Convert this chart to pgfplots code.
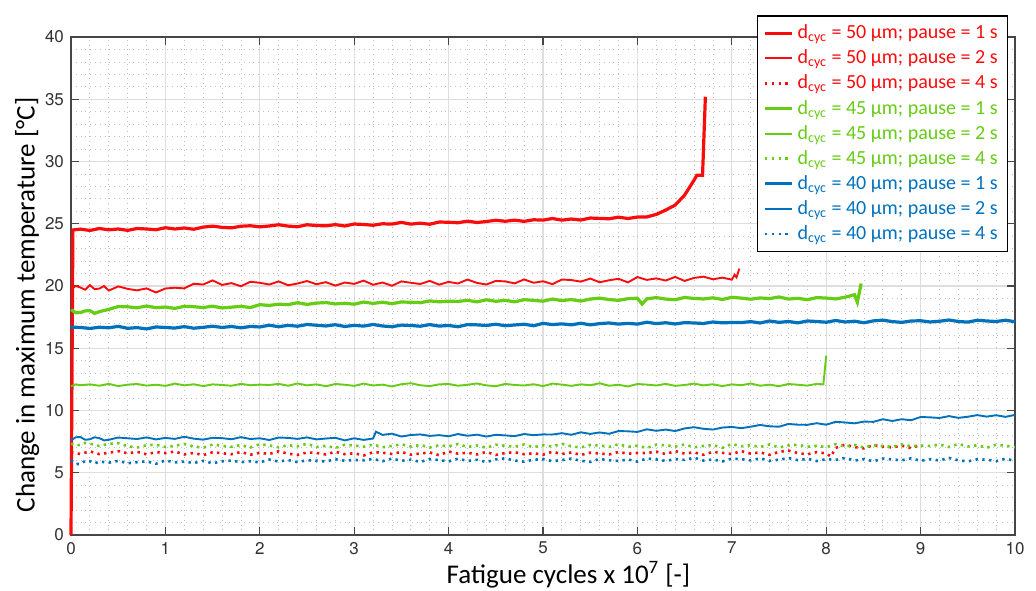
\documentclass[border=0pt]{standalone}
\usepackage{fontspec}
\setmainfont{Carlito}
\newfontfamily\helv{TeX Gyre Heros}
\usepackage{pgfplots}
\pgfplotsset{compat=1.18}
\definecolor{cred}{RGB}{250,12,12}
\definecolor{cgreen}{RGB}{102,204,20}
\definecolor{cblue}{RGB}{0,114,189}
\definecolor{axgray}{RGB}{70,70,70}
\tikzset{
  p1/.style={line width=1.6pt},
  p2/.style={line width=0.95pt},
  p4/.style={line width=1.3pt, dash pattern=on 1.2pt off 2.2pt},
}
\newcommand{\dc}{d\textsubscript{cyc}}
\begin{document}
\begin{tikzpicture}
\begin{axis}[
  scale only axis, width=472pt, height=249pt,
  xmin=0, xmax=10, ymin=0, ymax=40,
  xtick={0,1,...,10}, ytick={0,5,...,40},
  minor x tick num=4, minor y tick num=4,
  grid=both,
  major grid style={draw=black!13, line width=0.6pt},
  minor grid style={draw=black!25, line width=0.4pt, dotted},
  axis line style={draw=axgray, line width=0.6pt},
  major tick length=4pt, minor tick length=0pt,
  every tick/.style={draw=axgray, line width=0.6pt},
  /pgf/number format/assume math mode=true,
  ticklabel style={font=\helv\fontsize{8.5}{10}\selectfont, text=black!80},
  xlabel={Fatigue cycles x 10\textsuperscript{7} [-]},
  ylabel={Change in maximum temperature [°C]},
  label style={font=\fontsize{13.5}{16}\selectfont},
  xlabel style={at={(ticklabel cs:0.527)}, yshift=3.5pt},
  ylabel style={at={(ticklabel cs:0.462)}, yshift=-4pt},
  clip=false,
  legend style={at={(0.993,1.044)}, anchor=north east, draw=black, line width=0.8pt,
    fill=white, font=\fontsize{10}{12}\selectfont, inner xsep=3pt, inner ysep=2.5pt,
    row sep=0.1pt},
  legend cell align=left,
  legend image code/.code={\draw[#1] (0pt,0pt) -- (13.5pt,0pt);},
]
% d = 50 um, pause = 1 s
\addplot[color=cred, draw=cred, p1] coordinates {
(0,0) (0.02,24.5) (0.1,24.57) (0.2,24.46) (0.3,24.62) (0.4,24.51) (0.5,24.58) (0.6,24.47) (0.7,24.62) (0.8,24.58) (0.9,24.52)
(1.0,24.68) (1.1,24.58) (1.2,24.66) (1.3,24.56) (1.4,24.73) (1.5,24.81) (1.6,24.71) (1.7,24.67) (1.8,24.80) (1.9,24.84)
(2.0,24.75) (2.1,24.82) (2.2,24.92) (2.3,24.81) (2.4,24.76) (2.5,24.92) (2.6,24.86) (2.7,24.83) (2.8,24.93) (2.9,24.82)
(3.0,24.98) (3.1,24.94) (3.2,24.88) (3.3,25.00) (3.4,24.97) (3.5,25.11) (3.6,24.97) (3.7,25.05) (3.8,24.96) (3.9,25.14)
(4.0,25.12) (4.1,25.08) (4.2,25.21) (4.3,25.10) (4.4,25.18) (4.5,25.28) (4.6,25.20) (4.7,25.29) (4.8,25.19) (4.9,25.32)
(5.0,25.29) (5.1,25.42) (5.2,25.29) (5.3,25.38) (5.4,25.30) (5.5,25.46) (5.6,25.43) (5.7,25.40) (5.8,25.53) (5.9,25.42)
(6.0,25.54) (6.1,25.55) (6.2,25.75) (6.3,26.1) (6.4,26.5) (6.45,26.9) (6.5,27.3) (6.55,27.9) (6.6,28.5) (6.63,28.9)
(6.69,28.9) (6.72,35.2)
};
\addlegendentry{\textcolor{cred}{\dc{} = 50 µm; pause = 1 s}}
% d = 50 um, pause = 2 s
\addplot[color=cred, draw=cred, p2] coordinates {
(0.0,19.74) (0.05,20.0) (0.1,19.88) (0.15,19.7) (0.2,20.07) (0.25,19.75) (0.3,19.79) (0.35,20.0) (0.4,19.63) (0.5,19.97)
(0.6,19.77) (0.7,19.65) (0.8,19.81) (0.9,19.48) (1.0,19.80) (1.1,19.86) (1.2,19.81) (1.3,20.18) (1.4,20.12) (1.5,20.45)
(1.6,20.09) (1.7,20.23) (1.8,19.98) (1.9,20.34) (2.0,20.26) (2.1,20.12) (2.2,20.37) (2.3,20.06) (2.4,20.20) (2.5,20.40)
(2.6,20.14) (2.7,20.31) (2.8,20.03) (2.9,20.28) (3.0,20.17) (3.1,20.43) (3.2,20.10) (3.3,20.28) (3.4,20.02) (3.5,20.37)
(3.6,20.26) (3.7,20.16) (3.8,20.41) (3.9,20.11) (4.0,20.33) (4.1,20.20) (4.2,20.52) (4.3,20.25) (4.4,20.12) (4.5,20.41)
(4.6,20.37) (4.7,20.21) (4.8,20.53) (4.9,20.26) (5.0,20.38) (5.1,20.15) (5.2,20.52) (5.3,20.48) (5.4,20.35) (5.5,20.60)
(5.6,20.30) (5.7,20.46) (5.8,20.58) (5.9,20.29) (6.0,20.72) (6.1,20.49) (6.2,20.61) (6.3,20.44) (6.4,20.73) (6.5,20.41)
(6.6,20.65) (6.7,20.75) (6.8,20.54) (6.9,20.67) (7.0,20.51) (7.03,20.9) (7.05,20.7) (7.08,21.4)
};
\addlegendentry{\textcolor{cred}{\dc{} = 50 µm; pause = 2 s}}
% d = 50 um, pause = 4 s
\addplot[color=cred, draw=cred, p4] coordinates {
(0.0,6.64) (0.1,6.51) (0.2,6.72) (0.3,6.50) (0.4,6.60) (0.5,6.74) (0.6,6.56) (0.7,6.68) (0.8,6.48) (0.9,6.66)
(1.0,6.58) (1.1,6.71) (1.2,6.47) (1.3,6.59) (1.4,6.41) (1.5,6.65) (1.6,6.57) (1.7,6.49) (1.8,6.67) (1.9,6.45)
(2.0,6.61) (2.1,6.51) (2.2,6.73) (2.3,6.53) (2.4,6.43) (2.5,6.63) (2.6,6.59) (2.7,6.47) (2.8,6.69) (2.9,6.49)
(3.0,6.57) (3.1,6.39) (3.2,6.65) (3.3,6.61) (3.4,6.51) (3.5,6.67) (3.6,6.45) (3.7,6.55) (3.8,6.63) (3.9,6.41)
(4.0,6.71) (4.1,6.53) (4.2,6.61) (4.3,6.47) (4.4,6.67) (4.5,6.43) (4.6,6.59) (4.7,6.65) (4.8,6.49) (4.9,6.57)
(5.0,6.45) (5.1,6.69) (5.2,6.51) (5.3,6.63) (5.4,6.43) (5.5,6.61) (5.6,6.55) (5.7,6.47) (5.8,6.67) (5.9,6.53)
(6.0,6.59) (6.1,6.58) (6.2,6.70) (6.3,6.50) (6.4,6.74) (6.5,6.54) (6.6,6.64) (6.7,6.44) (6.8,6.68) (6.9,6.60)
(7.0,6.50) (7.1,6.74) (7.2,6.54) (7.3,6.64) (7.4,6.44) (7.5,6.68) (7.6,6.78) (7.7,6.58) (7.8,6.48) (7.9,6.66)
(8.0,6.55) (8.05,6.3) (8.1,7.0) (8.2,7.26) (8.3,7.06) (8.4,6.96) (8.5,7.22) (8.6,7.10) (8.7,7.04) (8.8,7.18)
(8.9,6.98) (9.0,7.24)
};
\addlegendentry{\textcolor{cred}{\dc{} = 50 µm; pause = 4 s}}
% d = 45 um, pause = 1 s
\addplot[color=cgreen, draw=cgreen, p1] coordinates {
(0.0,18.1) (0.05,17.85) (0.1,17.87) (0.15,18.0) (0.2,18.02) (0.25,17.8) (0.3,17.94) (0.4,18.12) (0.5,18.35) (0.6,18.33)
(0.7,18.25) (0.8,18.39) (0.9,18.26) (1.0,18.31) (1.1,18.20) (1.2,18.37) (1.3,18.34) (1.4,18.27) (1.5,18.38) (1.6,18.24)
(1.7,18.30) (1.8,18.37) (1.9,18.27) (2.0,18.50) (2.1,18.44) (2.2,18.54) (2.3,18.50) (2.4,18.66) (2.5,18.52) (2.6,18.63)
(2.7,18.67) (2.8,18.56) (2.9,18.61) (3.0,18.54) (3.1,18.71) (3.2,18.60) (3.3,18.70) (3.4,18.58) (3.5,18.72) (3.6,18.69)
(3.7,18.66) (3.8,18.80) (3.9,18.73) (4.0,18.78) (4.1,18.76) (4.2,18.85) (4.3,18.73) (4.4,18.89) (4.5,18.77) (4.6,18.85)
(4.7,18.73) (4.8,18.90) (4.9,18.85) (5.0,18.78) (5.1,18.95) (5.2,18.83) (5.3,18.91) (5.4,18.79) (5.5,18.95) (5.6,19.03)
(5.7,18.91) (5.8,18.85) (5.9,18.98) (6.0,19.02) (6.05,18.55) (6.1,18.97) (6.2,19.07) (6.3,18.95) (6.4,18.90) (6.5,19.08)
(6.6,19.00) (6.7,18.96) (6.8,19.05) (6.9,18.92) (7.0,19.09) (7.1,19.03) (7.2,18.94) (7.3,19.04) (7.4,18.99) (7.5,19.12)
(7.6,18.95) (7.7,19.01) (7.8,18.90) (7.9,19.07) (8.0,19.03) (8.1,18.96) (8.2,19.1) (8.25,19.2) (8.3,19.3) (8.33,18.7)
(8.37,20.2)
};
\addlegendentry{\textcolor{cgreen}{\dc{} = 45 µm; pause = 1 s}}
% d = 45 um, pause = 2 s
\addplot[color=cgreen, draw=cgreen, p2] coordinates {
(0.0,11.95) (0.05,12.1) (0.1,12.03) (0.2,12.10) (0.3,11.99) (0.4,12.14) (0.5,11.96) (0.6,12.08) (0.7,12.13) (0.8,12.00)
(0.9,12.07) (1.0,11.98) (1.1,12.16) (1.2,12.02) (1.3,12.11) (1.4,11.96) (1.5,12.10) (1.6,12.05) (1.7,11.99) (1.8,12.14)
(1.9,12.03) (2.0,12.08) (2.1,12.05) (2.2,12.14) (2.3,11.99) (2.4,12.17) (2.5,12.02) (2.6,12.10) (2.7,11.95) (2.8,12.13)
(2.9,12.07) (3.0,11.98) (3.1,12.16) (3.2,12.01) (3.3,12.08) (3.4,11.93) (3.5,12.11) (3.6,12.19) (3.7,12.03) (3.8,11.96)
(3.9,12.10) (4.0,12.13) (4.1,11.99) (4.2,12.07) (4.3,12.17) (4.4,12.02) (4.5,11.95) (4.6,12.14) (4.7,12.05) (4.8,12.01)
(4.9,12.11) (5.0,11.96) (5.1,12.16) (5.2,12.08) (5.3,11.98) (5.4,12.10) (5.5,12.03) (5.6,12.19) (5.7,11.99) (5.8,12.07)
(5.9,11.93) (6.0,12.13) (6.1,12.08) (6.2,12.01) (6.3,12.14) (6.4,11.98) (6.5,12.05) (6.6,12.16) (6.7,12.02) (6.8,12.11)
(6.9,11.96) (7.0,12.10) (7.1,12.03) (7.2,12.17) (7.3,11.99) (7.4,12.08) (7.5,11.95) (7.6,12.13) (7.7,12.07) (7.8,12.00)
(7.9,12.14) (7.97,12.1) (8.0,14.4)
};
\addlegendentry{\textcolor{cgreen}{\dc{} = 45 µm; pause = 2 s}}
% d = 45 um, pause = 4 s
\addplot[color=cgreen, draw=cgreen, p4] coordinates {
(0.0,7.35) (0.05,7.2) (0.1,7.24) (0.15,7.4) (0.2,7.34) (0.3,7.14) (0.4,7.33) (0.5,7.38) (0.6,7.13) (0.7,7.03)
(0.8,7.21) (0.9,7.25) (1.0,7.07) (1.1,7.17) (1.2,7.31) (1.3,7.11) (1.4,7.01) (1.5,7.27) (1.6,7.15) (1.7,7.09)
(1.8,7.23) (1.9,7.03) (2.0,7.29) (2.1,7.19) (2.2,7.05) (2.3,7.21) (2.4,7.13) (2.5,7.33) (2.6,7.07) (2.7,7.17)
(2.8,6.99) (2.9,7.25) (3.0,7.19) (3.1,7.09) (3.2,7.27) (3.3,7.05) (3.4,7.15) (3.5,7.29) (3.6,7.11) (3.7,7.23)
(3.8,7.03) (3.9,7.21) (4.0,7.13) (4.1,7.31) (4.2,7.07) (4.3,7.19) (4.4,7.01) (4.5,7.25) (4.6,7.17) (4.7,7.09)
(4.8,7.27) (4.9,7.05) (5.0,7.21) (5.1,7.11) (5.2,7.33) (5.3,7.13) (5.4,7.03) (5.5,7.23) (5.6,7.19) (5.7,7.07)
(5.8,7.29) (5.9,7.09) (6.0,7.17) (6.1,6.99) (6.2,7.25) (6.3,7.21) (6.4,7.11) (6.5,7.27) (6.6,7.05) (6.7,7.15)
(6.8,7.23) (6.9,7.01) (7.0,7.31) (7.1,7.13) (7.2,7.21) (7.3,7.07) (7.4,7.27) (7.5,7.03) (7.6,7.19) (7.7,7.25)
(7.8,7.09) (7.9,7.17) (8.0,7.05) (8.1,7.29) (8.2,7.11) (8.3,7.23) (8.4,7.03) (8.5,7.21) (8.6,7.15) (8.7,7.07)
(8.8,7.27) (8.9,7.13) (9.0,7.19) (9.1,7.15) (9.2,7.27) (9.3,7.07) (9.4,7.31) (9.5,7.11) (9.6,7.21) (9.7,7.01)
(9.8,7.25) (9.9,7.17) (10.0,7.05)
};
\addlegendentry{\textcolor{cgreen}{\dc{} = 45 µm; pause = 4 s}}
% d = 40 um, pause = 1 s
\addplot[color=cblue, draw=cblue, p1] coordinates {
(0.0,16.7) (0.1,16.67) (0.2,16.59) (0.3,16.69) (0.4,16.64) (0.5,16.76) (0.6,16.60) (0.7,16.66) (0.8,16.55) (0.9,16.71)
(1.0,16.67) (1.1,16.62) (1.2,16.74) (1.3,16.61) (1.4,16.68) (1.5,16.77) (1.6,16.67) (1.7,16.75) (1.8,16.64) (1.9,16.75)
(2.0,16.71) (2.1,16.85) (2.2,16.73) (2.3,16.84) (2.4,16.77) (2.5,16.91) (2.6,16.85) (2.7,16.79) (2.8,16.89) (2.9,16.75)
(3.0,16.84) (3.1,16.78) (3.2,16.91) (3.3,16.79) (3.4,16.73) (3.5,16.86) (3.6,16.83) (3.7,16.77) (3.8,16.90) (3.9,16.78)
(4.0,16.83) (4.1,16.73) (4.2,16.90) (4.3,16.88) (4.4,16.83) (4.5,16.93) (4.6,16.81) (4.7,16.87) (4.8,16.93) (4.9,16.81)
(5.0,17.00) (5.1,16.90) (5.2,16.96) (5.3,16.88) (5.4,17.01) (5.5,16.88) (5.6,16.98) (5.7,17.03) (5.8,16.94) (5.9,17.00)
(6.0,16.94) (6.1,17.09) (6.2,16.98) (6.3,17.05) (6.4,16.95) (6.5,17.06) (6.6,17.03) (6.7,16.99) (6.8,17.11) (6.9,17.04)
(7.0,17.07) (7.1,17.06) (7.2,17.14) (7.3,17.03) (7.4,17.19) (7.5,17.08) (7.6,17.15) (7.7,17.04) (7.8,17.19) (7.9,17.15)
(8.0,17.09) (8.1,17.23) (8.2,17.11) (8.3,17.17) (8.4,17.05) (8.5,17.20) (8.6,17.26) (8.7,17.14) (8.8,17.08) (8.9,17.19)
(9.0,17.21) (9.1,17.11) (9.2,17.17) (9.3,17.27) (9.4,17.15) (9.5,17.10) (9.6,17.25) (9.7,17.19) (9.8,17.15) (9.9,17.25)
(10.0,17.13)
};
\addlegendentry{\textcolor{cblue}{\dc{} = 40 µm; pause = 1 s}}
% d = 40 um, pause = 2 s
\addplot[color=cblue, draw=cblue, p2] coordinates {
(0.0,7.6) (0.05,7.85) (0.1,7.87) (0.15,7.65) (0.2,7.69) (0.25,7.85) (0.3,7.78) (0.35,7.6) (0.4,7.65) (0.5,7.83)
(0.6,7.77) (0.7,7.71) (0.8,7.84) (0.9,7.68) (1.0,7.80) (1.1,7.72) (1.2,7.89) (1.3,7.74) (1.4,7.66) (1.5,7.81)
(1.6,7.78) (1.7,7.69) (1.8,7.86) (1.9,7.71) (2.0,7.77) (2.1,7.63) (2.2,7.83) (2.3,7.80) (2.4,7.72) (2.5,7.84)
(2.6,7.68) (2.7,7.75) (2.8,7.81) (2.9,7.60) (3.0,7.77) (3.1,7.64) (3.2,7.75) (3.23,8.3) (3.3,8.04) (3.4,8.14)
(3.5,7.91) (3.6,8.03) (3.7,8.08) (3.8,7.96) (3.9,8.02) (4.0,7.93) (4.1,8.11) (4.2,7.97) (4.3,8.06) (4.4,7.91)
(4.5,8.05) (4.6,8.00) (4.7,7.94) (4.8,8.11) (4.9,8.02) (5.0,8.08) (5.1,8.07) (5.2,8.18) (5.3,8.05) (5.4,8.25)
(5.5,8.12) (5.6,8.24) (5.7,8.13) (5.8,8.35) (5.9,8.33) (6.0,8.28) (6.1,8.49) (6.2,8.37) (6.3,8.47) (6.4,8.35)
(6.5,8.56) (6.6,8.66) (6.7,8.53) (6.8,8.47) (6.9,8.63) (7.0,8.68) (7.1,8.58) (7.2,8.70) (7.3,8.84) (7.4,8.73)
(7.5,8.70) (7.6,8.92) (7.7,8.86) (7.8,8.85) (7.9,8.98) (8.0,8.86) (8.1,9.09) (8.2,9.04) (8.3,8.97) (8.4,9.11)
(8.5,9.09) (8.6,9.30) (8.7,9.16) (8.8,9.30) (8.9,9.22) (9.0,9.48) (9.1,9.45) (9.2,9.40) (9.3,9.55) (9.4,9.41)
(9.5,9.50) (9.6,9.63) (9.7,9.51) (9.8,9.62) (9.9,9.49) (10.0,9.65)
};
\addlegendentry{\textcolor{cblue}{\dc{} = 40 µm; pause = 2 s}}
% d = 40 um, pause = 4 s
\addplot[color=cblue, draw=cblue, p4] coordinates {
(0.0,6.0) (0.05,5.7) (0.1,5.71) (0.15,5.95) (0.2,5.94) (0.25,5.75) (0.3,5.90) (0.4,5.81) (0.5,5.96) (0.6,5.76)
(0.7,5.85) (0.8,5.92) (0.9,5.72) (1.0,5.99) (1.1,5.83) (1.2,5.90) (1.3,5.78) (1.4,5.96) (1.5,5.76) (1.6,5.92)
(1.7,5.98) (1.8,5.85) (1.9,5.93) (2.0,5.83) (2.1,6.06) (2.2,5.90) (2.3,6.02) (2.4,5.85) (2.5,6.01) (2.6,5.97)
(2.7,5.90) (2.8,6.09) (2.9,5.96) (3.0,6.03) (3.1,6.00) (3.2,6.11) (3.3,5.93) (3.4,6.14) (3.5,5.96) (3.6,6.05)
(3.7,5.87) (3.8,6.09) (3.9,6.02) (4.0,5.91) (4.1,6.13) (4.2,5.95) (4.3,6.04) (4.4,5.86) (4.5,6.07) (4.6,6.16)
(4.7,5.98) (4.8,5.89) (4.9,6.05) (5.0,6.09) (5.1,5.93) (5.2,6.02) (5.3,6.14) (5.4,5.96) (5.5,5.87) (5.6,6.11)
(5.7,6.00) (5.8,5.95) (5.9,6.07) (6.0,5.89) (6.1,6.15) (6.2,6.07) (6.3,5.95) (6.4,6.10) (6.5,6.03) (6.6,6.21)
(6.7,5.98) (6.8,6.07) (6.9,5.91) (7.0,6.14) (7.1,6.09) (7.2,6.00) (7.3,6.16) (7.4,5.96) (7.5,6.05) (7.6,6.18)
(7.7,6.01) (7.8,6.12) (7.9,5.94) (8.0,6.10) (8.1,6.03) (8.2,6.19) (8.3,5.98) (8.4,6.09) (8.5,5.92) (8.6,6.14)
(8.7,6.07) (8.8,6.00) (8.9,6.16) (9.0,5.96) (9.1,6.09) (9.2,5.99) (9.3,6.19) (9.4,6.00) (9.5,5.91) (9.6,6.08)
(9.7,6.05) (9.8,5.93) (9.9,6.13) (10.0,5.95)
};
\addlegendentry{\textcolor{cblue}{\dc{} = 40 µm; pause = 4 s}}
\end{axis}
\pgfresetboundingbox
\path[use as bounding box] (-35.5pt,-27.5pt) rectangle (482.5pt,267.5pt);
\end{tikzpicture}
\end{document}
